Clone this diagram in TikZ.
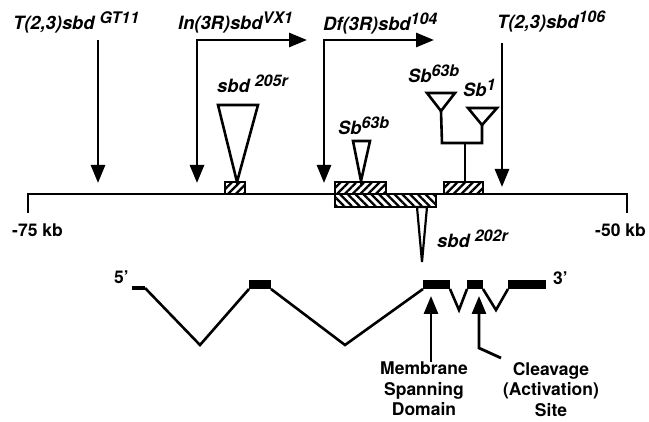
\documentclass[tikz,border=0pt]{standalone}
\usepackage{fontspec}
\setmainfont{TeX Gyre Heros}
\usetikzlibrary{arrows.meta,patterns.meta}
\newcommand\SupT[1]{\raisebox{6.5pt}{\fontsize{16}{16}\selectfont #1}}
\begin{document}
\begin{tikzpicture}[x=1pt,y=-1pt,
  lbl/.style={font=\fontsize{17.5}{21}\selectfont\bfseries, inner sep=0pt, anchor=base west},
  ilbl/.style={inner sep=0pt, anchor=base west, font=\fontsize{18.3}{21}\selectfont\bfseries\itshape},
  blk/.style={inner sep=0pt, align=center, anchor=north, font=\fontsize{17.5}{20.5}\selectfont\bfseries},
  arr/.style={line width=2.8pt, -{Triangle[length=18pt,width=14pt]}},
  harr/.style={line width=2.8pt, {Triangle[length=18pt,width=14pt]}-{Triangle[length=18pt,width=14pt]}},
  hatchA/.style={draw, line width=2pt, pattern={Lines[angle=45,distance=5.5pt,line width=2.3pt]}},
  hatchB/.style={draw, line width=2pt, pattern={Lines[angle=-45,distance=5.5pt,line width=2.3pt]}},
  ins/.style={draw, line width=2.6pt, fill=white, line join=miter},
  gene/.style={line width=2.6pt, line join=miter},
  exon/.style={fill=black}]
\path[use as bounding box] (0,0) rectangle (649,422);

% ---- coordinates ----
\coordinate (lend) at (28,213);
\coordinate (lcor) at (28,194);
\coordinate (rcor) at (627,194);
\coordinate (rend) at (627,213);

\coordinate (gtTop) at (98,40);   \coordinate (gtTip) at (98,183);
\coordinate (inR) at (307,40); \coordinate (inC) at (197,40); \coordinate (inTip) at (197,183);
\coordinate (dfR) at (434,40); \coordinate (dfC) at (324,40); \coordinate (dfTip) at (324,183);
\coordinate (t6Top) at (502,43); \coordinate (t6Tip) at (502,187);

% ---- main chromosome line ----
\draw[line width=2.3pt, line join=miter] (lend) -- (lcor) -- (rcor) -- (rend);

% ---- hatched boxes ----
\path[hatchA] (225,182) rectangle (245,194);
\path[hatchA] (335,182) rectangle (386,194);
\path[hatchB] (335,194) rectangle (436,207);
\path[hatchA] (444,182) rectangle (483,194);

% ---- arrows ----
\draw[arr] (gtTop) -- (gtTip);
\draw[harr] (inR) -- (inC) -- (inTip);
\draw[harr] (dfR) -- (dfC) -- (dfTip);
\draw[arr] (t6Top) -- (t6Tip);

% ---- insertions ----
\draw[ins] (218,105) -- (258,105) -- (237,182) -- cycle;
\draw[ins] (353,141) -- (370,141) -- (361,181) -- cycle;
\draw[ins, line width=2.2pt] (417,207) -- (427,207) -- (422,262) -- cycle;

% Sb63b / Sb1 fork
\coordinate (stemB) at (465,182);
\coordinate (stemT) at (465,143);
\coordinate (forkL) at (442,143);
\coordinate (forkR) at (482,143);
\coordinate (apL) at (441,111);
\coordinate (apR) at (482,125);
\draw[line width=2.6pt, line join=miter] (stemB) -- (stemT);
\draw[line width=2.6pt, line join=miter] (apL) -- (forkL) -- (forkR) -- (apR);
\draw[ins] (427,93) -- (455,93) -- (apL) -- cycle;
\draw[ins] (468,108) -- (497,108) -- (apR) -- cycle;

% ---- labels ----
\node[ilbl] (lGT) at (13,30) {T(2,3)sbd \SupT{GT11}};
\node[ilbl] (lIn) at (178,30) {In(3R)sbd\SupT{VX1}};
\node[ilbl] (lDf) at (323,31) {Df(3R)sbd\SupT{104}};
\node[ilbl] (l106) at (497,29) {T(2,3)sbd\SupT{106}};
\node[ilbl] (l205) at (217,93) {sbd \SupT{205r}};
\node[ilbl] (lSbL) at (338,135) {Sb\SupT{63b}};
\node[ilbl] (lSbT) at (408,83) {Sb\SupT{63b}};
\node[ilbl] (lSb1) at (463,97) {Sb\SupT{1}};
\node[ilbl] (l202) at (437,248) {sbd \SupT{202r}};
\node[lbl] (l75) at (12,237) {-75 kb};
\node[lbl] (l50) at (595,237) {-50 kb};

% ---- gene structure ----
\node[lbl] (l5) at (114,284) {5'};
\node[lbl] (l3) at (553,285) {3'};
\draw[line width=3.5pt] (132,288) -- (145,288);
\draw[gene] (145,288) -- (200,345) -- (249,289);
\fill[exon] (249,280) rectangle (271,289);
\draw[gene] (271,289) -- (345,345) -- (423,289);
\fill[exon] (423,280) rectangle (450,289);
\draw[gene] (450,289) -- (459,310) -- (467,289);
\fill[exon] (467,280) rectangle (483,289);
\draw[gene] (483,289) -- (496,310) -- (508,289);
\fill[exon] (508,280) rectangle (546,289);

% ---- bottom annotations ----
\node[blk] (mem) at (424,362) {Membrane\\Spanning\\Domain};
\node[blk] (clv) at (551,362) {Cleavage\\(Activation)\\Site};
\coordinate (memTip) at (431,296);
\coordinate (clvTip) at (479,296);
\coordinate (clvBend) at (479,348);
\draw[arr] (mem.north -| memTip) -- (memTip);
\draw[arr, line join=miter] (501,358) -- (clvBend) -- (clvTip);
\end{tikzpicture}
\end{document}
